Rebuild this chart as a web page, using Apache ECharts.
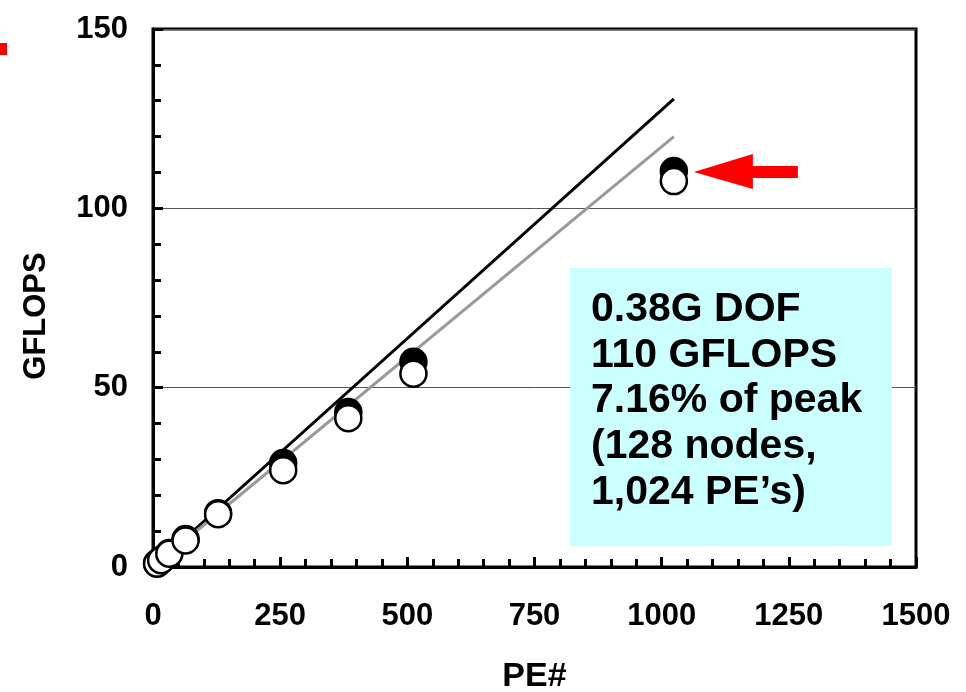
<!DOCTYPE html>
<html>
<head>
<meta charset="utf-8">
<script src="https://cdn.jsdelivr.net/npm/echarts@6/dist/echarts.min.js"></script>
<style>
  html, body { margin: 0; padding: 0; background: #fff; }
  #chart { width: 966px; height: 692px; }
</style>
</head>
<body>
<div id="chart"></div>
<script>
// Processor counts (PE#) and measured performance in GFLOPS
const peCounts = [8, 16, 32, 64, 128, 256, 384, 512, 1024];
const gflopsA = [1.0, 2.0, 3.9, 7.8, 15.0, 29.0, 43.2, 57.2, 110.4];   // filled markers
const gflopsB = [0.95, 1.9, 3.7, 7.4, 14.7, 27.0, 41.5, 53.9, 107.6]; // open markers

// Ideal-scaling reference lines
const idealX = [0, 1024];
const idealA = [0, 130.5];
const idealB = [0, 120.0];

const xTicks = [0, 250, 500, 750, 1000, 1250, 1500];
const yTicks = [0, 50, 100, 150];

const noteLines = ['0.38G DOF', '110 GFLOPS', '7.16% of peak', '(128 nodes,', '1,024 PE\u2019s)'];

const pairs = (xs, ys) => xs.map((x, i) => [x, ys[i]]);

const FONT = '"Liberation Sans", Arial, sans-serif';

const chart = echarts.init(document.getElementById('chart'), null, { renderer: 'canvas' });

const option = {
  animation: false,
  backgroundColor: '#ffffff',
  grid: {
    left: 153, top: 29, right: 50, bottom: 125,
    containLabel: false, outerBoundsMode: 'none',
    show: true, borderColor: '#000', borderWidth: 3
  },
  xAxis: {
    type: 'value',
    min: xTicks[0], max: xTicks[xTicks.length - 1], interval: 250,
    name: 'PE#', nameLocation: 'middle', nameGap: 93,
    nameTextStyle: { fontFamily: FONT, fontWeight: 'bold', fontSize: 34, color: '#000' },
    axisLine: { show: true, onZero: false, lineStyle: { color: '#000', width: 3 } },
    axisTick: { show: true, inside: true, length: 10, lineStyle: { color: '#000', width: 3 } },
    minorTick: { show: true, splitNumber: 5, length: 8, lineStyle: { color: '#000', width: 3 } },
    axisLabel: {
      fontFamily: FONT, fontWeight: 'bold', fontSize: 31, color: '#000', margin: 34,
      formatter: (v) => String(v)
    },
    splitLine: { show: false }
  },
  yAxis: {
    type: 'value',
    min: yTicks[0], max: yTicks[yTicks.length - 1], interval: 50,
    name: 'GFLOPS', nameLocation: 'middle', nameGap: 101, nameRotate: 90,
    nameTextStyle: {
      fontFamily: FONT, fontWeight: 'bold', fontSize: 31, color: '#000',
      padding: [0, 36, 0, 0]
    },
    axisLine: { show: true, onZero: false, lineStyle: { color: '#000', width: 3 } },
    axisTick: { show: true, inside: true, length: 10, lineStyle: { color: '#000', width: 3 } },
    minorTick: { show: true, splitNumber: 5, length: 8, lineStyle: { color: '#000', width: 3 } },
    axisLabel: { fontFamily: FONT, fontWeight: 'bold', fontSize: 31, color: '#000', margin: 25 },
    splitLine: { show: true, lineStyle: { color: '#555', width: 1 } }
  },
  series: [
    {
      type: 'line', data: pairs(idealX, idealA), symbol: 'none', z: 2,
      lineStyle: { color: '#000', width: 3 }
    },
    {
      type: 'line', data: pairs(idealX, idealB), symbol: 'none', z: 2,
      lineStyle: { color: '#999', width: 3 }
    },
    {
      type: 'scatter', data: pairs(peCounts, gflopsA), symbol: 'circle', symbolSize: 26, z: 3,
      itemStyle: { color: '#000', borderColor: '#000', borderWidth: 2.5, opacity: 1 }
    },
    {
      type: 'scatter', data: pairs(peCounts, gflopsB), symbol: 'circle', symbolSize: 26, z: 4,
      itemStyle: { color: '#fff', borderColor: '#000', borderWidth: 2.5, opacity: 1 }
    }
  ]
};

chart.setOption(option);

// Annotations: note box, arrow pointing at the 1,024-PE result, small red marker
const tip = chart.convertToPixel({ gridIndex: 0 }, [1024, gflopsA[gflopsA.length - 1]]);
const ax = tip[0] + 20, ay = tip[1] + 1;

chart.setOption({
  graphic: [
    {
      type: 'rect', left: 0, top: 43, z: 10,
      shape: { width: 7, height: 12 }, style: { fill: '#ff0000' }
    },
    {
      type: 'polygon', z: 10,
      shape: {
        points: [
          [ax, ay], [ax + 59, ay - 18], [ax + 59, ay - 6], [ax + 104, ay - 6],
          [ax + 104, ay + 6], [ax + 59, ay + 6], [ax + 59, ay + 17]
        ]
      },
      style: { fill: '#ff0000' }
    },
    {
      type: 'rect', left: 570, top: 268, z: 10,
      shape: { width: 322, height: 278 }, style: { fill: '#ccffff' }
    },
    ...noteLines.map((t, i) => ({
      type: 'text', z: 11, left: 591, top: 289 + i * 45.7,
      style: { text: t, font: 'bold 41px ' + FONT, fill: '#000' }
    }))
  ]
});
</script>
</body>
</html>
